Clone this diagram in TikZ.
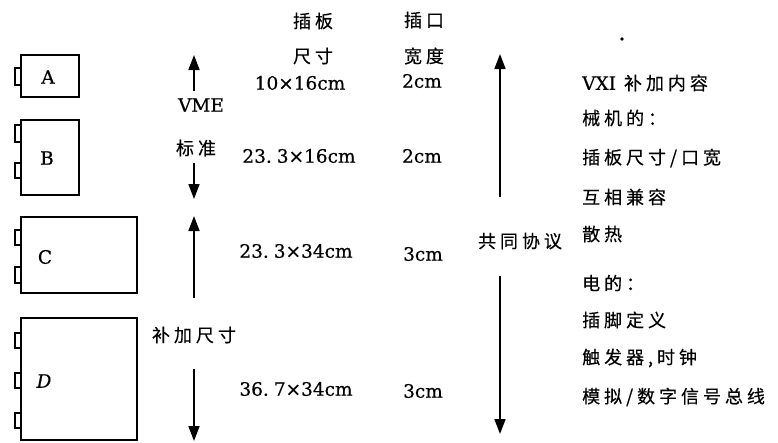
\documentclass[tikz,border=0pt]{standalone}
\usepackage{fontspec}
\setmainfont[FakeBold=0.5]{DejaVu Serif}
\newfontfamily\cjk[LetterSpace=22,FakeBold=0.4]{Noto Sans CJK SC}
\usetikzlibrary{arrows.meta}
\begin{document}
\begin{tikzpicture}[x=1pt,y=-1pt,
  font=\fontsize{18.5}{21}\selectfont,
  board/.style={draw,line width=1.9pt,inner sep=0pt,outer sep=0pt},
  tab/.style={draw,line width=1.7pt},
  arr/.style={line width=1.7pt,-{Triangle[width=11pt,length=15pt]}},
  txt/.style={inner sep=0pt},
  ctxt/.style={inner sep=0pt,font=\fontsize{18}{20}\selectfont\cjk},
  rtxt/.style={inner sep=0pt,anchor=west,font=\fontsize{18}{20}\selectfont\cjk}]
\useasboundingbox (0,0) rectangle (778,442);
% boards
\node[board,minimum width=58pt,minimum height=42pt] (A) at (50,76) {};
\node[board,minimum width=58pt,minimum height=75pt] (B) at (50,157.5) {};
\node[board,minimum width=116pt,minimum height=76pt] (C) at (79,255) {};
\node[board,minimum width=116pt,minimum height=122pt] (D) at (79,379) {};
% tabs
\draw[tab] (15,68) rectangle (21,85);
\draw[tab] (15,125) rectangle (21,142);
\draw[tab] (15,163) rectangle (21,178);
\draw[tab] (15,230) rectangle (21,245);
\draw[tab] (15,267) rectangle (21,283);
\draw[tab] (15,333) rectangle (21,348);
\draw[tab] (15,373) rectangle (21,388);
\draw[tab] (15,413) rectangle (21,428);
% board labels
\node[txt] (la) at (48,77) {A};
\node[txt] (lb) at (47,158) {B};
\node[txt] (lc) at (45,257) {C};
\node[txt] (ld) at (44,381) {\textit{D}};
% left arrows and labels
\node[txt] (vme) at (201,105) {VME};
\node[ctxt] (std) at (196,148) {标准};
\node[ctxt] (extra) at (194,335) {补加尺寸};
\coordinate (v1a) at (194,91);
\coordinate (v1b) at (194,55);
\coordinate (v2a) at (194,163);
\coordinate (v2b) at (194,199);
\coordinate (v3a) at (194,298);
\coordinate (v3b) at (194,216);
\coordinate (v4a) at (194,369);
\coordinate (v4b) at (194,441);
\draw[arr] (v1a) -- (v1b);
\draw[arr] (v2a) -- (v2b);
\draw[arr] (v3a) -- (v3b);
\draw[arr] (v4a) -- (v4b);
% column headers
\node[ctxt] (h1a) at (313,21) {插板};
\node[ctxt] (h1b) at (313,56) {尺寸};
\node[ctxt] (h2a) at (424,20) {插口};
\node[ctxt] (h2b) at (424,56) {宽度};
% sizes
\node[txt] (s1) at (300,83) {10×16cm};
\node[txt] (s2) at (299,156) {23.\hspace{5pt}3×16cm};
\node[txt] (s3) at (296,251) {23.\hspace{5pt}3×34cm};
\node[txt] (s4) at (296,389) {36.\hspace{5pt}7×34cm};
\node[txt] (w1) at (422,81) {2cm};
\node[txt] (w2) at (422,156) {2cm};
\node[txt] (w3) at (423,254) {3cm};
\node[txt] (w4) at (423,391) {3cm};
% right arrows
\node[ctxt] (common) at (520,241) {共同协议};
\coordinate (r1a) at (500,197);
\coordinate (r1b) at (500,54);
\coordinate (r2a) at (500,276);
\coordinate (r2b) at (500,434);
\draw[arr] (r1a) -- (r1b);
\draw[arr] (r2a) -- (r2b);
\fill (622,39) circle (1.8pt);
% right text
\node[rtxt] (t1) at (582,83) {{\fontsize{18.5}{21}\selectfont\rmfamily VXI} 补加内容};
\node[rtxt] (t2) at (582,118) {械机的：};
\node[rtxt] (t3) at (582,158) {插板尺寸/口宽};
\node[rtxt] (t4) at (582,197) {互相兼容};
\node[rtxt] (t5) at (582,234) {散热};
\node[rtxt] (t6) at (582,283) {电的：};
\node[rtxt] (t7) at (582,320) {插脚定义};
\node[rtxt] (t8) at (582,358) {触发器,时钟};
\node[rtxt] (t9) at (582,397) {模拟/数字信号总线};
\end{tikzpicture}
\end{document}
